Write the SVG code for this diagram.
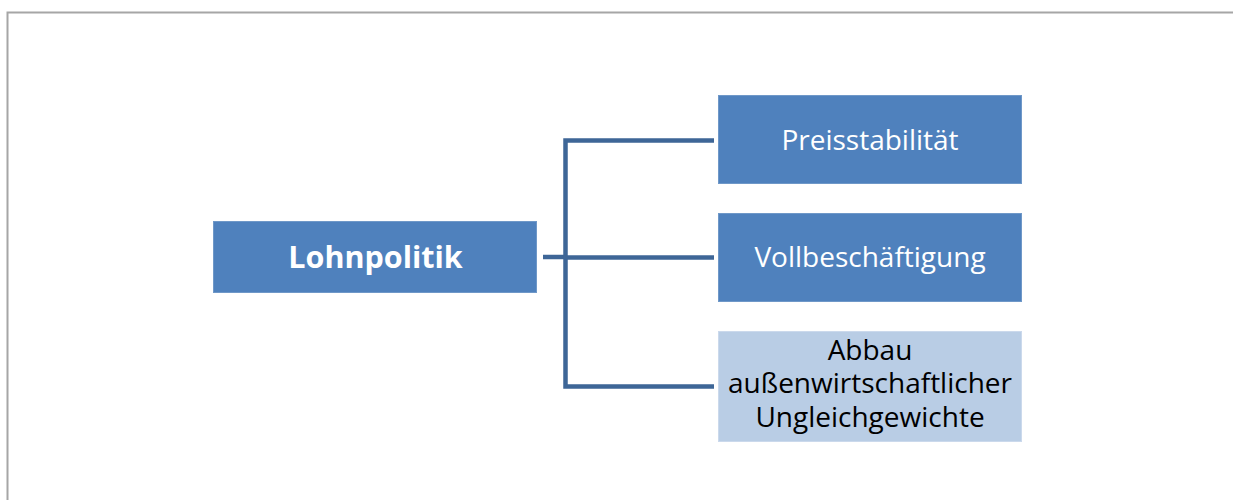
<svg xmlns="http://www.w3.org/2000/svg" width="1233" height="500" viewBox="0 0 1233 500">
<style>
.frame{fill:none;stroke:#a6a6a6;stroke-width:2}
.dark{fill:#4f81bd;stroke:#6f98c8;stroke-width:1}
.light{fill:#b9cde5;stroke:#cbd9ec;stroke-width:1}
.conn{fill:none;stroke:#3e6697;stroke-width:4.5}
text{font-family:"Open Sans","Noto Sans","DejaVu Sans",sans-serif;text-anchor:middle}
.w{fill:#ffffff;font-size:28px}
.b{fill:#ffffff;font-size:30.5px;font-weight:bold}
.k{fill:#000000;font-size:28px}
</style>
<rect width="1233" height="500" fill="#ffffff"/>
<path class="frame" d="M7.5,500 V12.5 H1233"/>
<g id="connectors">
<path class="conn" d="M543,257 H565.5"/>
<path class="conn" d="M714,140.5 H565.5 V386.5 H714"/>
<path class="conn" d="M565.5,257.5 H714"/>
</g>
<g id="node-lohnpolitik">
<rect class="dark" x="213.5" y="221.5" width="323" height="71"/>
<text class="b" x="375.5" y="268">Lohnpolitik</text>
</g>
<g id="node-preisstabilitaet">
<rect class="dark" x="718.5" y="95.5" width="303" height="88"/>
<text class="w" x="870" y="149.5">Preisstabilität</text>
</g>
<g id="node-vollbeschaeftigung">
<rect class="dark" x="718.5" y="213.5" width="303" height="88"/>
<text class="w" x="870" y="267">Vollbeschäftigung</text>
</g>
<g id="node-abbau">
<rect class="light" x="718.5" y="331.5" width="303" height="110"/>
<text class="k" x="870" y="359.5">Abbau</text>
<text class="k" x="870" y="393">außenwirtschaftlicher</text>
<text class="k" x="870" y="426.5">Ungleichgewichte</text>
</g>
</svg>
